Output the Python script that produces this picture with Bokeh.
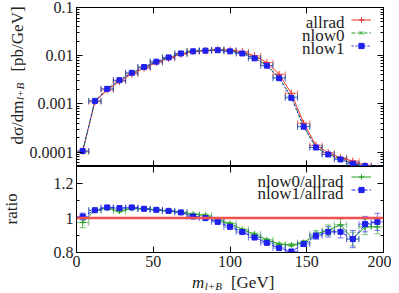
import math
from bokeh.plotting import figure
from bokeh.layouts import column, row
from bokeh.models import (Range1d, FixedTicker, LinearAxis, LogAxis, Whisker, TeeHead,
                          ColumnDataSource, Label, Legend, LegendItem, Span)
from bokeh.embed import file_html
from bokeh.resources import INLINE

# ---------------- data ----------------
mass = [4, 12, 20, 28, 36, 44, 52, 60, 68, 76, 84, 92, 100, 108, 116, 124, 132,
        140, 148, 156, 164, 172, 180, 188, 196]
bin_half = 4

allrad = [1.04e-4, 1.10e-3, 1.93e-3, 2.93e-3, 4.14e-3, 5.50e-3, 7.16e-3, 8.83e-3,
          1.075e-2, 1.22e-2, 1.27e-2, 1.33e-2, 1.30e-2, 1.21e-2, 9.9e-3, 7.2e-3,
          4.1e-3, 1.65e-3, 3.95e-4, 1.38e-4, 9.7e-5, 7.6e-5, 6.5e-5, 5.3e-5, 4.6e-5]
nlow0 = [1.01e-4, 1.15e-3, 2.04e-3, 3.05e-3, 4.37e-3, 5.80e-3, 7.50e-3, 9.20e-3,
         1.11e-2, 1.25e-2, 1.29e-2, 1.32e-2, 1.26e-2, 1.13e-2, 9.0e-3, 6.3e-3,
         3.5e-3, 1.39e-3, 3.4e-4, 1.25e-4, 9.0e-5, 7.3e-5, 5.7e-5, 5.0e-5, 4.4e-5]
nlow1 = [1.05e-4, 1.15e-3, 2.05e-3, 3.10e-3, 4.40e-3, 5.80e-3, 7.50e-3, 9.20e-3,
         1.11e-2, 1.23e-2, 1.27e-2, 1.30e-2, 1.23e-2, 1.11e-2, 8.8e-3, 6.2e-3,
         3.4e-3, 1.33e-3, 3.35e-4, 1.24e-4, 8.9e-5, 7.0e-5, 5.7e-5, 5.1e-5, 4.5e-5]

ratio0 = [0.974, 1.045, 1.057, 1.041, 1.056, 1.054, 1.048, 1.042, 1.035, 1.023,
          1.017, 0.990, 0.969, 0.934, 0.907, 0.874, 0.849, 0.843, 0.858, 0.907,
          0.930, 0.961, 0.878, 0.949, 0.949]
ratio0_err = [0.030, 0.012, 0.008, 0.008, 0.006, 0.006, 0.006, 0.006, 0.006, 0.006,
              0.006, 0.006, 0.006, 0.006, 0.006, 0.006, 0.006, 0.008, 0.012, 0.020,
              0.030, 0.035, 0.040, 0.045, 0.040]
ratio1 = [1.009, 1.046, 1.062, 1.058, 1.062, 1.054, 1.048, 1.042, 1.033, 1.009,
          1.000, 0.978, 0.949, 0.919, 0.887, 0.856, 0.826, 0.806, 0.849, 0.897,
          0.920, 0.920, 0.878, 0.965, 0.978]
ratio1_err = [0.020, 0.010, 0.008, 0.008, 0.006, 0.006, 0.006, 0.006, 0.006, 0.006,
              0.006, 0.006, 0.006, 0.006, 0.006, 0.006, 0.006, 0.008, 0.012, 0.020,
              0.030, 0.035, 0.050, 0.045, 0.050]

x_ticks = [0, 50, 100, 150, 200]
y_ticks_top = [1e-4, 1e-3, 1e-2, 1e-1]
y_labels_top = ["0.0001", "0.001", "0.01", "0.1"]
y_ticks_bot = [0.8, 1.0, 1.2]
y_labels_bot = ["0.8", "1", "1.2"]

RED = "#f03030"
GREEN = "#22a022"
BLUE = "#2020ee"
FONT = "Liberation Serif"
FS = "17px"
TICK_FS = "16px"
TXT = "#222222"

xl = [m - bin_half for m in mass]
xu = [m + bin_half for m in mass]

STRIP_W = 26
MAIN_W = 365
LEFT_B = 49


def style_axis(ax, ticks, show_labels):
    ax.axis_line_color = "black"
    ax.major_tick_in = 6
    ax.major_tick_out = 0
    ax.minor_tick_in = 3
    ax.minor_tick_out = 0
    ax.major_tick_line_color = "black"
    ax.minor_tick_line_color = "black"
    if show_labels:
        ax.major_label_text_font = FONT
        ax.major_label_text_font_size = TICK_FS
        ax.major_label_text_color = TXT
        ax.major_label_standoff = 3
    else:
        ax.major_label_overrides = {t: "" for t in ticks}
        ax.major_label_text_font_size = "1px"
        ax.major_label_standoff = 0


def txt_label(x, y, text, size=FS, style="normal", angle=0.0, align="center",
              x_units="screen"):
    return Label(x=x, y=y, x_units=x_units, y_units="screen", text=text, angle=angle,
                 text_align=align, text_baseline="alphabetic", text_font=FONT,
                 text_font_style=style, text_font_size=size, text_color=TXT)


def blank_fig(w, h, x_range=None):
    f = figure(width=w, height=h, output_backend="svg", toolbar_location=None,
               title=None, x_axis_location=None, y_axis_location=None,
               x_range=x_range if x_range is not None else Range1d(0, 1),
               y_range=Range1d(0, 1),
               min_border=0, min_border_left=0, min_border_right=0,
               min_border_top=0, min_border_bottom=0)
    f.grid.visible = False
    f.outline_line_color = None
    return f


# ---------------- top panel ----------------
top = figure(width=MAIN_W, height=166, output_backend="svg", toolbar_location=None,
             x_range=Range1d(0, 200), y_range=Range1d(5e-5, 0.1), y_axis_type="log",
             min_border_left=LEFT_B, min_border_right=8, min_border_top=7, min_border_bottom=0)
top.grid.visible = False
top.outline_line_color = "black"

minor_log = [k * 10.0 ** e for e in range(-5, -1) for k in range(2, 10)]
ytick_top = FixedTicker(ticks=y_ticks_top, minor_ticks=minor_log)
xtick = FixedTicker(ticks=x_ticks, minor_ticks=[])

top.yaxis.ticker = ytick_top
top.yaxis.major_label_overrides = {t: l for t, l in zip(y_ticks_top, y_labels_top)}
style_axis(top.yaxis[0], y_ticks_top, True)
top.xaxis.ticker = xtick
style_axis(top.xaxis[0], x_ticks, False)
ra = LogAxis(ticker=ytick_top)
style_axis(ra, y_ticks_top, False)
top.add_layout(ra, "right")
ta = LinearAxis(ticker=xtick)
style_axis(ta, x_ticks, False)
top.add_layout(ta, "above")

series = [
    ("allrad", allrad, RED, None, "cross", 7),
    ("nlow0", nlow0, GREEN, "4 2", "x", 5),
    ("nlow1", nlow1, BLUE, "2 2", "square", 5),
]
top_items = []
for name, vals, col, dash, marker, size in series:
    src = ColumnDataSource(dict(x=mass, y=vals, xl=xl, xu=xu))
    w = Whisker(source=src, base="y", lower="xl", upper="xu", dimension="width",
                line_color=col, line_alpha=0.6, line_width=1,
                upper_head=TeeHead(size=6, line_color=col, line_alpha=0.6),
                lower_head=TeeHead(size=6, line_color=col, line_alpha=0.6))
    top.add_layout(w)
    kw = dict(line_color=col, line_width=1)
    if dash:
        kw["line_dash"] = dash
    lr = top.line("x", "y", source=src, **kw)
    sr = top.scatter("x", "y", source=src, marker=marker, size=size,
                     line_color=col, fill_color=col)
    top_items.append(LegendItem(label=" ", renderers=[lr, sr]))

for txt, yb in zip(["allrad", "nlow0", "nlow1"], [144.0, 131.4, 118.4]):
    top.add_layout(txt_label(268, yb, txt, align="right"))

leg = Legend(items=top_items, location=(275, 114), orientation="vertical",
             glyph_width=20, glyph_height=13, spacing=0, padding=0, margin=0,
             label_width=1, label_standoff=0, label_text_font_size="2px",
             border_line_alpha=0, background_fill_alpha=0)
top.add_layout(leg)

# ---------------- ratio panel ----------------
bot = figure(width=MAIN_W, height=108, output_backend="svg", toolbar_location=None,
             x_range=top.x_range, y_range=Range1d(0.8, 1.3),
             min_border_left=LEFT_B, min_border_right=8, min_border_top=0, min_border_bottom=22)
bot.grid.visible = False
bot.outline_line_color = "black"

ytick_bot = FixedTicker(ticks=y_ticks_bot, minor_ticks=[0.9, 1.1, 1.3])
bot.yaxis.ticker = ytick_bot
bot.yaxis.major_label_overrides = {t: l for t, l in zip(y_ticks_bot, y_labels_bot)}
style_axis(bot.yaxis[0], y_ticks_bot, True)
bot.xaxis.ticker = xtick
style_axis(bot.xaxis[0], x_ticks, True)
ra2 = LinearAxis(ticker=ytick_bot)
style_axis(ra2, y_ticks_bot, False)
bot.add_layout(ra2, "right")
ta2 = LinearAxis(ticker=xtick)
style_axis(ta2, x_ticks, False)
bot.add_layout(ta2, "above")

bot.add_layout(Span(location=1.0, dimension="width", line_color="#f05050", line_width=2.5))

rseries = [
    ("nlow0/allrad", ratio0, ratio0_err, GREEN, None, "cross", 6),
    ("nlow1/allrad", ratio1, ratio1_err, BLUE, "4 2", "square", 5),
]
bot_items = []
for name, vals, errs, col, dash, marker, size in rseries:
    lo = [v - e for v, e in zip(vals, errs)]
    hi = [v + e for v, e in zip(vals, errs)]
    src = ColumnDataSource(dict(x=mass, y=vals, xl=xl, xu=xu, lo=lo, hi=hi))
    for dim, b, l, u in [("width", "y", "xl", "xu"), ("height", "x", "lo", "hi")]:
        w = Whisker(source=src, base=b, lower=l, upper=u, dimension=dim,
                    line_color=col, line_alpha=0.6, line_width=1,
                    upper_head=TeeHead(size=6, line_color=col, line_alpha=0.6),
                    lower_head=TeeHead(size=6, line_color=col, line_alpha=0.6))
        bot.add_layout(w)
    kw = dict(line_color=col, line_width=1)
    if dash:
        kw["line_dash"] = dash
    lr = bot.line("x", "y", source=src, **kw)
    sr = bot.scatter("x", "y", source=src, marker=marker, size=size,
                     line_color=col, fill_color=col)
    bot_items.append(LegendItem(label=" ", renderers=[lr, sr]))

for txt, yb in zip(["nlow0/allrad", "nlow1/allrad"], [71.4, 59.4]):
    bot.add_layout(txt_label(267, yb, txt, align="right"))

leg2 = Legend(items=bot_items, location=(275, 56), orientation="vertical",
              glyph_width=20, glyph_height=13, spacing=0, padding=0, margin=0,
              label_width=1, label_standoff=0, label_text_font_size="2px",
              border_line_alpha=0, background_fill_alpha=0)
bot.add_layout(leg2)

# ---------------- axis-title strips ----------------
ystrip = blank_fig(STRIP_W, 293)
ystrip.add_layout(txt_label(17.0, 193.0, "dσ/dm", angle=math.pi / 2, align="right"))
ystrip.add_layout(txt_label(19.5, 193.5, "l+B", size="11px", style="italic",
                            angle=math.pi / 2, align="left"))
ystrip.add_layout(txt_label(17.0, 254.5, "[pb/GeV]", angle=math.pi / 2))
ystrip.add_layout(txt_label(11.0, 84.7, "ratio", angle=math.pi / 2))

# x-axis title strip shares the mass axis range, so the title sits under the panels
xstrip = blank_fig(MAIN_W, 19, x_range=top.x_range)
xstrip.add_layout(txt_label(83.2, 11.3, "m", style="italic", align="right", x_units="data"))
xstrip.add_layout(txt_label(83.5, 8, "l+B", size="11px", style="italic", align="left",
                            x_units="data"))
xstrip.add_layout(txt_label(100.6, 11.3, "[GeV]", align="left", x_units="data"))

layout = row(ystrip, column(top, bot, xstrip, spacing=0), spacing=0)
open("out.html", "w").write(file_html(layout, INLINE))
